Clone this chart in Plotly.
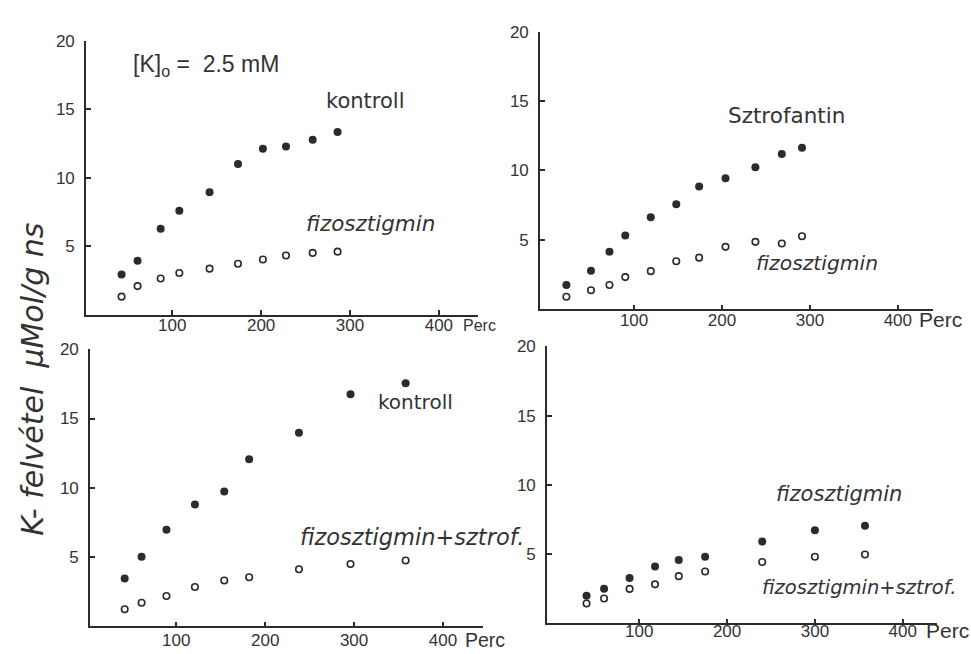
import plotly.graph_objects as go

# --- data: K uptake (µMol/g) versus time (min) ---------------------------
# top-left panel, [K]o = 2.5 mM
tl_time = [43, 61, 87, 108, 142, 174, 202, 228, 258, 286]
tl_kontroll = [2.93, 3.94, 6.28, 7.58, 8.94, 11.0, 12.1, 12.28, 12.76, 13.33]
tl_fizo = [1.32, 2.09, 2.64, 3.04, 3.36, 3.72, 4.03, 4.32, 4.51, 4.60]

# top-right panel
tr_time = [23, 51, 72, 90, 119, 148, 174, 204, 238, 268, 291]
tr_sztrof = [1.75, 2.77, 4.15, 5.31, 6.64, 7.56, 8.84, 9.45, 10.23, 11.19, 11.64]
tr_fizo = [0.90, 1.37, 1.75, 2.32, 2.75, 3.46, 3.72, 4.50, 4.86, 4.74, 5.26]

# bottom-left panel
bl_time = [42, 61, 89, 121, 154, 182, 238, 296, 358]
bl_kontroll = [3.45, 5.02, 6.98, 8.79, 9.74, 12.07, 13.98, 16.76, 17.55]
bl_fizo_sztrof = [1.24, 1.71, 2.19, 2.84, 3.31, 3.55, 4.12, 4.50, 4.76]

# bottom-right panel
br_time = [40, 60, 89, 118, 145, 175, 240, 300, 357]
br_fizo = [1.99, 2.51, 3.27, 4.10, 4.57, 4.81, 5.92, 6.73, 7.04]
br_fizo_sztrof = [1.44, 1.80, 2.49, 2.82, 3.41, 3.75, 4.43, 4.81, 4.97]

x_ticks = [100, 200, 300, 400]
y_ticks = [5, 10, 15, 20]

INK = "#2b2b2b"
TICK_FONT = dict(family="Liberation Sans, Arial, sans-serif", size=17, color="#333333")
HAND_FONT = dict(family="DejaVu Sans, Noto Sans, sans-serif", size=20,
                 color="#333333", style="italic")

W, H = 971, 654


def px_x(p):
    return p / W


def px_y(p):
    return 1 - p / H


# panel geometry (pixel boxes), axis ranges and tick-label offsets
panels = [
    dict(x0=86, x1=478, yt=32, yb=310, xr=[3, 444], lab=-6),
    dict(x0=540, x1=933, yt=23, yb=304.5, xr=[-7, 440], lab=-6),
    dict(x0=90, x1=483, yt=345, yb=626, xr=[3, 445], lab=-3),
    dict(x0=547, x1=937, yt=342, yb=623, xr=[-5, 439], lab=-9),
]

fig = go.Figure()

series = [
    (tl_time, tl_kontroll, tl_fizo),
    (tr_time, tr_sztrof, tr_fizo),
    (bl_time, bl_kontroll, bl_fizo_sztrof),
    (br_time, br_fizo, br_fizo_sztrof),
]

layout = dict(
    width=W, height=H,
    margin=dict(l=0, r=0, t=0, b=0),
    paper_bgcolor="white", plot_bgcolor="white",
    showlegend=False,
)

for i, (pan, (t, filled, hollow)) in enumerate(zip(panels, series), start=1):
    xa = "x" if i == 1 else f"x{i}"
    ya = "y" if i == 1 else f"y{i}"
    fig.add_trace(go.Scatter(
        x=t, y=filled, mode="markers", xaxis=xa, yaxis=ya,
        marker=dict(symbol="circle", size=8, color=INK, line=dict(width=0)),
        cliponaxis=False,
    ))
    fig.add_trace(go.Scatter(
        x=t, y=hollow, mode="markers", xaxis=xa, yaxis=ya,
        marker=dict(symbol="circle-open", size=6.5, color=INK, line=dict(width=1.6)),
        cliponaxis=False,
    ))
    common = dict(showline=True, linecolor=INK, linewidth=1.6, ticks="inside",
                  ticklen=5, tickwidth=1.5, tickcolor=INK, showgrid=False,
                  zeroline=False, tickfont=TICK_FONT, fixedrange=True)
    layout["xaxis" if i == 1 else f"xaxis{i}"] = dict(
        common, domain=[px_x(pan["x0"]), px_x(pan["x1"])], range=pan["xr"],
        tickvals=x_ticks, anchor=ya, ticklabelstandoff=pan["lab"],
    )
    layout["yaxis" if i == 1 else f"yaxis{i}"] = dict(
        common, domain=[px_y(pan["yb"]), px_y(pan["yt"])], range=[0, 20],
        tickvals=y_ticks, anchor=xa, ticklabelstandoff=6,
    )

fig.update_layout(**layout)

# "Perc" unit after the 400 tick label of each panel
perc_sizes = [16, 21, 19.5, 21]
perc_shift = [22, 19, 20, 21]
perc_drop = [11, 10, 14, 7]
for i, (sz, sh, dr) in enumerate(zip(perc_sizes, perc_shift, perc_drop), start=1):
    xa = "x" if i == 1 else f"x{i}"
    ya = "y" if i == 1 else f"y{i}"
    fig.add_annotation(
        x=400, y=0, xref=xa, yref=ya, text="Perc", showarrow=False,
        xanchor="left", yanchor="middle", xshift=sh, yshift=-dr,
        font=dict(TICK_FONT, size=sz),
    )


def label(text, xc, yc, size=20, style="italic", family=None):
    f = dict(HAND_FONT, size=size, style=style)
    if family:
        f["family"] = family
    fig.add_annotation(x=px_x(xc), y=px_y(yc), xref="paper", yref="paper",
                       text=text, showarrow=False, xanchor="center",
                       yanchor="middle", font=f)


label("[K]<sub>o</sub> =  2.5 mM", 206, 57, size=23, style="normal",
      family="Liberation Sans, Arial, sans-serif")
label("kontroll", 365, 93, size=21, style="normal")
label("fizosztigmin", 370, 218, size=21.5)
label("Sztrofantin", 786, 108, size=21.5, style="normal")
label("fizosztigmin", 817, 258, size=20.3)
label("kontroll", 415, 398, size=20, style="normal")
label("fizosztigmin+sztrof.", 412, 535, size=22.5)
label("fizosztigmin", 839, 492, size=21)
label("fizosztigmin+sztrof.", 859, 587, size=19.5)

# shared y-axis title
fig.add_annotation(x=px_x(33), y=px_y(376), xref="paper", yref="paper",
                   text="K- felvétel  μMol/g ns", textangle=-90, showarrow=False,
                   xanchor="center", yanchor="middle",
                   font=dict(HAND_FONT, size=30))

fig.write_html("out.html")
